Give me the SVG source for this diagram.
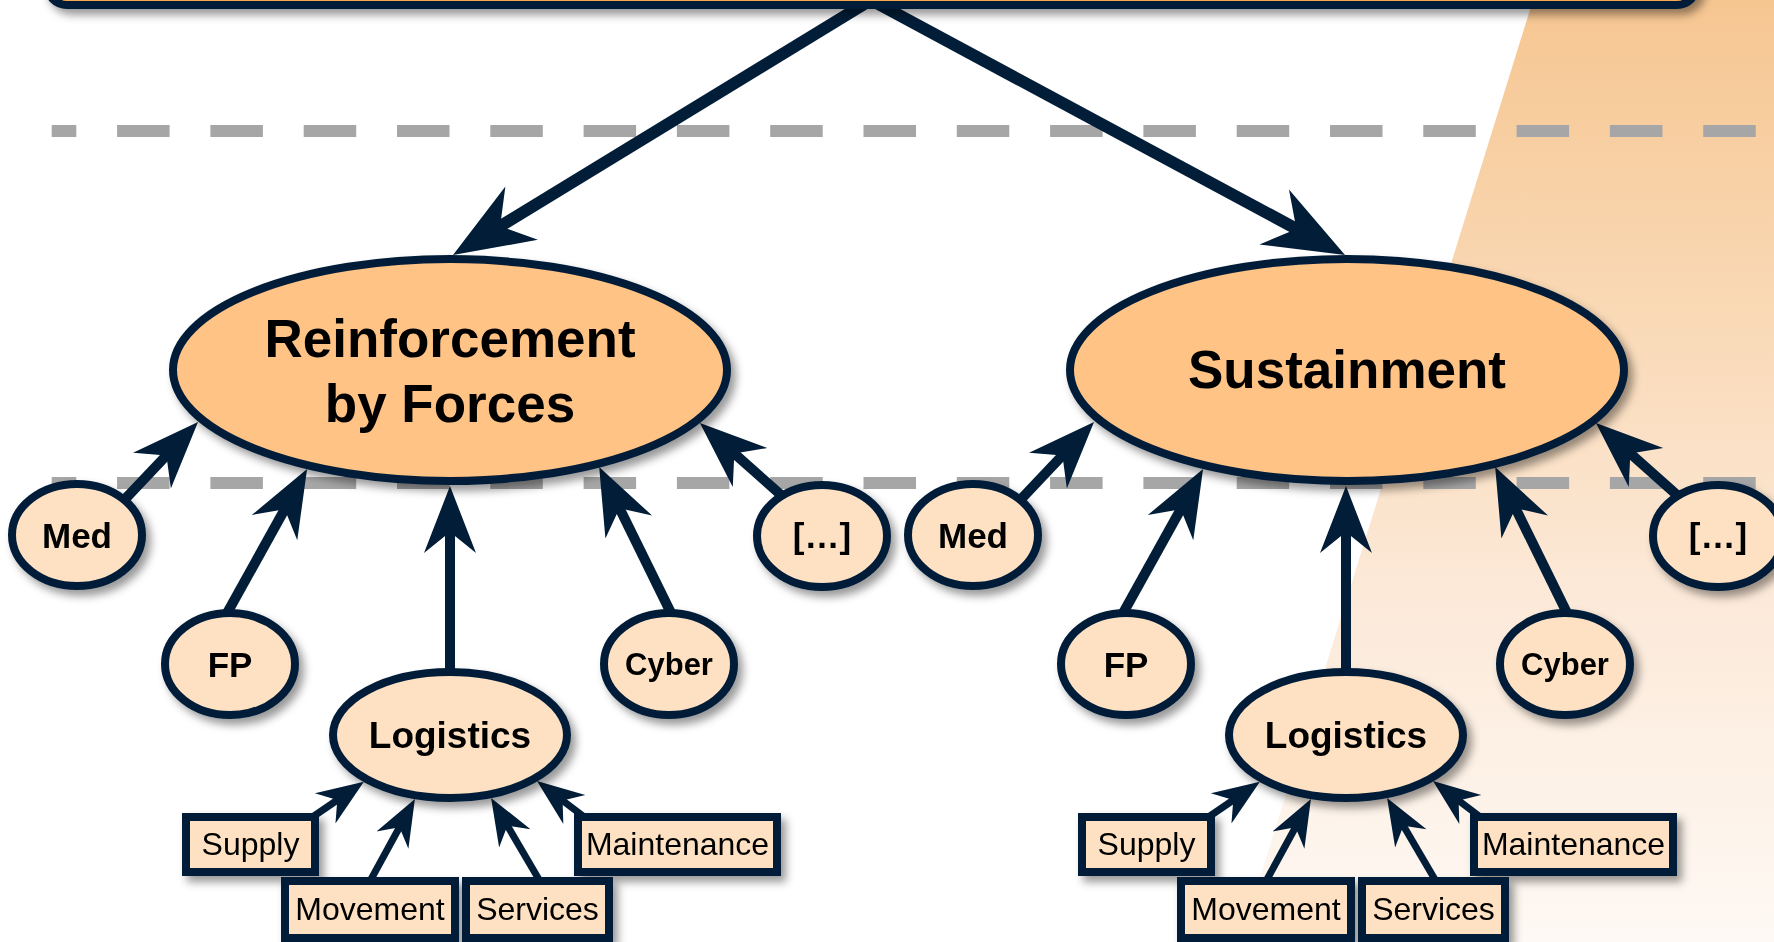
<svg xmlns="http://www.w3.org/2000/svg" width="1774" height="942" viewBox="0 0 1774 942">
<defs>
<linearGradient id="bgGrad" x1="0" y1="0" x2="0" y2="1">
<stop offset="0" stop-color="#F6C691"/>
<stop offset="0.3" stop-color="#F9D7B2"/>
<stop offset="0.65" stop-color="#FCEADA"/>
<stop offset="1" stop-color="#FEF9F4"/>
</linearGradient>
<filter id="shadow" x="-20%" y="-20%" width="150%" height="160%">
<feDropShadow dx="5" dy="6" stdDeviation="4" flood-color="#000" flood-opacity="0.4"/>
</filter>
<marker id="ah" viewBox="0 -3 7 6" refX="3" refY="0" markerWidth="7" markerHeight="6" orient="auto" markerUnits="strokeWidth">
<path d="M6.7,0 L0,-2.6 L2.1,0 L0,2.6 Z" fill="#021D38"/>
</marker>
</defs>
<style>
.dash{stroke:#A6A6A6;stroke-width:12;stroke-dasharray:52.5 40.8;stroke-dashoffset:27.9;fill:none}
.con{stroke:#021D38;fill:none;marker-end:url(#ah)}
.top{stroke-width:12}
.mid{stroke-width:10}
.sm{stroke-width:7}
.big{fill:#FFC386;stroke:#021D38;stroke-width:8}
.lite{fill:#FDE1C2;stroke:#021D38;stroke-width:8}
.bt{font-family:"Liberation Sans",Arial,sans-serif;font-weight:bold;fill:#000;text-anchor:middle}
.rt{font-family:"Liberation Sans",Arial,sans-serif;fill:#000;text-anchor:middle;font-size:32px}
</style>
<rect width="1774" height="942" fill="#FFFFFF"/>
<polygon points="1533,0 1774,0 1774,942 1240,942" fill="url(#bgGrad)"/>
<line class="dash" x1="51.7" y1="131" x2="1756" y2="131"/>
<line class="dash" x1="51.7" y1="483" x2="1756" y2="483"/>

<g id="connectors">
<path class="con top" d="M871,0 L490.9,231.9"/>
<path class="con top" d="M871,0 L1305.9,234"/>
<path class="con mid" d="M123.5,500.8 L172.6,448.9"/>
<path class="con mid" d="M226,615 L289.1,501.4"/>
<path class="con mid" d="M450,675 L450,523"/>
<path class="con mid" d="M672,615 L615.5,500.1"/>
<path class="con mid" d="M781,495 L727.6,447.6"/>
<path class="con mid" d="M1019.5,500.8 L1068.6,448.9"/>
<path class="con mid" d="M1122,615 L1185.1,501.4"/>
<path class="con mid" d="M1346,675 L1346,523"/>
<path class="con mid" d="M1568,615 L1511.5,500.1"/>
<path class="con mid" d="M1677,495 L1623.6,447.6"/>
<path class="con sm" d="M314,816 L342.5,796.5"/>
<path class="con sm" d="M369,883 L402.5,821.7"/>
<path class="con sm" d="M541,883 L504.2,820.3"/>
<path class="con sm" d="M583,816 L557.6,796.7"/>
<path class="con sm" d="M1210,816 L1238.5,796.5"/>
<path class="con sm" d="M1265,883 L1298.5,821.7"/>
<path class="con sm" d="M1437,883 L1400.2,820.3"/>
<path class="con sm" d="M1479,816 L1453.6,796.7"/>
</g>

<g id="topbar" filter="url(#shadow)">
<rect x="47" y="-60" width="1650" height="65" rx="20" fill="#F8A84C" stroke="#021D38" stroke-width="8"/>
</g>

<g id="reinforcement" filter="url(#shadow)">
<ellipse class="big" cx="450" cy="370" rx="277" ry="111"/>
<text class="bt" x="450" y="357" font-size="53">Reinforcement</text>
<text class="bt" x="450" y="422" font-size="53">by Forces</text>
</g>
<g id="sustainment" filter="url(#shadow)">
<ellipse class="big" cx="1347" cy="370" rx="277" ry="111"/>
<text class="bt" x="1347" y="388" font-size="53">Sustainment</text>
</g>

<g id="med-l" filter="url(#shadow)">
<ellipse class="lite" cx="77" cy="535" rx="65" ry="51"/>
<text class="bt" x="77" y="547.5" font-size="35">Med</text>
</g>
<g id="fp-l" filter="url(#shadow)">
<ellipse class="lite" cx="230" cy="664" rx="65" ry="51"/>
<text class="bt" x="230" y="676.5" font-size="35">FP</text>
</g>
<g id="logistics-l" filter="url(#shadow)">
<ellipse class="lite" cx="450" cy="735" rx="117" ry="63"/>
<text class="bt" x="450" y="748" font-size="37">Logistics</text>
</g>
<g id="cyber-l" filter="url(#shadow)">
<ellipse class="lite" cx="669" cy="664" rx="65" ry="51"/>
<text class="bt" x="669" y="675" font-size="31">Cyber</text>
</g>
<g id="etc-l" filter="url(#shadow)">
<ellipse class="lite" cx="822" cy="536" rx="65" ry="51"/>
<text class="bt" x="822" y="548" font-size="35">[…]</text>
</g>

<g id="med-r" filter="url(#shadow)">
<ellipse class="lite" cx="973" cy="535" rx="65" ry="51"/>
<text class="bt" x="973" y="547.5" font-size="35">Med</text>
</g>
<g id="fp-r" filter="url(#shadow)">
<ellipse class="lite" cx="1126" cy="664" rx="65" ry="51"/>
<text class="bt" x="1126" y="676.5" font-size="35">FP</text>
</g>
<g id="logistics-r" filter="url(#shadow)">
<ellipse class="lite" cx="1346" cy="735" rx="117" ry="63"/>
<text class="bt" x="1346" y="748" font-size="37">Logistics</text>
</g>
<g id="cyber-r" filter="url(#shadow)">
<ellipse class="lite" cx="1565" cy="664" rx="65" ry="51"/>
<text class="bt" x="1565" y="675" font-size="31">Cyber</text>
</g>
<g id="etc-r" filter="url(#shadow)">
<ellipse class="lite" cx="1718" cy="536" rx="65" ry="51"/>
<text class="bt" x="1718" y="548" font-size="35">[…]</text>
</g>

<g id="supply-l" filter="url(#shadow)">
<rect class="lite" x="186" y="817" width="129" height="55"/>
<text class="rt" x="250.5" y="855">Supply</text>
</g>
<g id="maintenance-l" filter="url(#shadow)">
<rect class="lite" x="578" y="817" width="199" height="55"/>
<text class="rt" x="677.5" y="855">Maintenance</text>
</g>
<g id="movement-l" filter="url(#shadow)">
<rect class="lite" x="285" y="881" width="170" height="57"/>
<text class="rt" x="370" y="920">Movement</text>
</g>
<g id="services-l" filter="url(#shadow)">
<rect class="lite" x="466" y="881" width="143" height="57"/>
<text class="rt" x="537.5" y="920">Services</text>
</g>

<g id="supply-r" filter="url(#shadow)">
<rect class="lite" x="1082" y="817" width="129" height="55"/>
<text class="rt" x="1146.5" y="855">Supply</text>
</g>
<g id="maintenance-r" filter="url(#shadow)">
<rect class="lite" x="1474" y="817" width="199" height="55"/>
<text class="rt" x="1573.5" y="855">Maintenance</text>
</g>
<g id="movement-r" filter="url(#shadow)">
<rect class="lite" x="1181" y="881" width="170" height="57"/>
<text class="rt" x="1266" y="920">Movement</text>
</g>
<g id="services-r" filter="url(#shadow)">
<rect class="lite" x="1362" y="881" width="143" height="57"/>
<text class="rt" x="1433.5" y="920">Services</text>
</g>
</svg>
